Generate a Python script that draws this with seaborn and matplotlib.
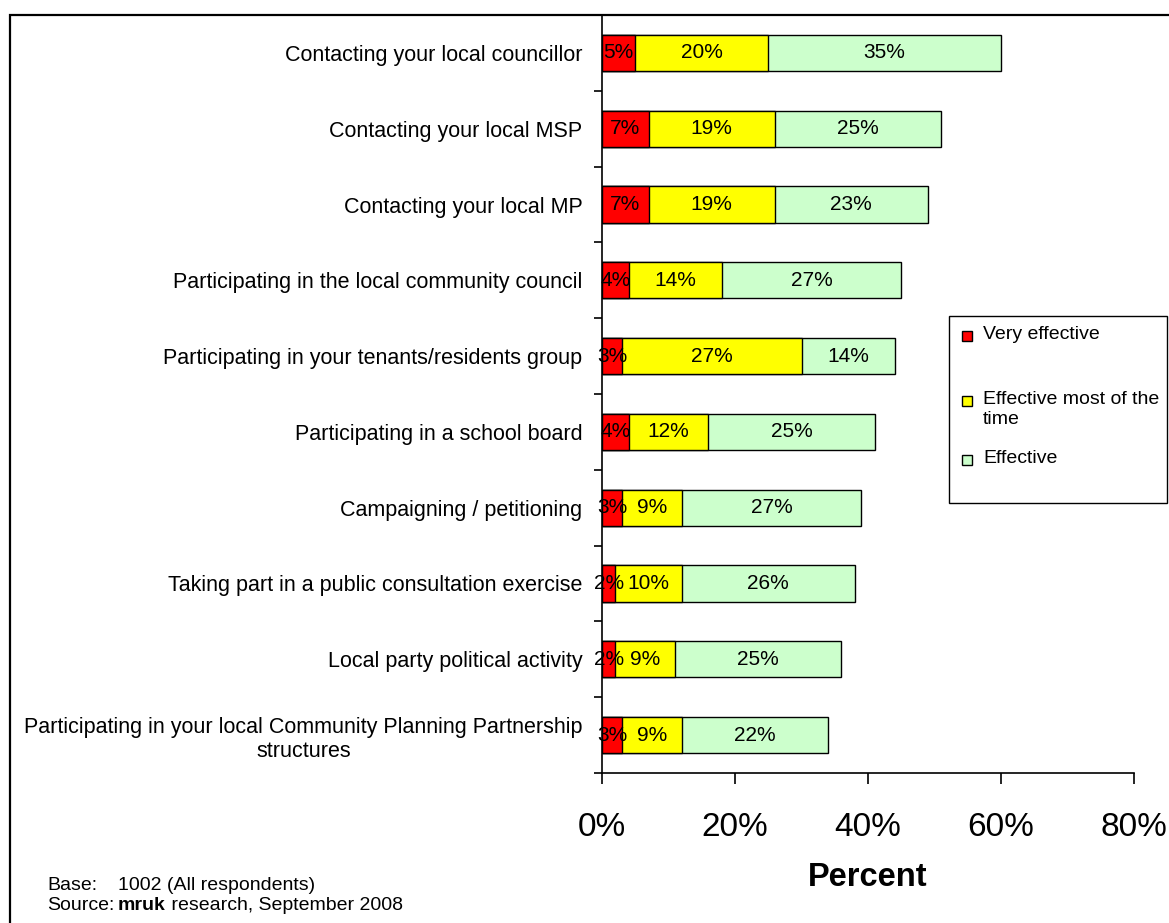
import matplotlib
matplotlib.use("Agg")
import matplotlib.pyplot as plt
from matplotlib.patches import Rectangle
from matplotlib.ticker import FixedLocator, PercentFormatter
import numpy as np
import pandas as pd
import seaborn as sns

categories = [
    "Contacting your local councillor",
    "Contacting your local MSP",
    "Contacting your local MP",
    "Participating in the local community council",
    "Participating in your tenants/residents group",
    "Participating in a school board",
    "Campaigning / petitioning",
    "Taking part in a public consultation exercise",
    "Local party political activity",
    "Participating in your local Community Planning Partnership\nstructures",
]
very_effective = [5, 7, 7, 4, 3, 4, 3, 2, 2, 3]
effective_most = [20, 19, 19, 14, 27, 12, 9, 10, 9, 9]
effective = [35, 25, 23, 27, 14, 25, 27, 26, 25, 22]
series_names = ["Very effective", "Effective most of the\ntime", "Effective"]
series_colors = ["#FF0000", "#FFFF00", "#CCFFCC"]
x_ticks = [0, 20, 40, 60, 80]

sns.set_theme(style="white")
plt.rcParams["font.family"] = ["Liberation Sans", "DejaVu Sans"]
plt.rcParams["text.color"] = "black"
plt.rcParams["axes.labelcolor"] = "black"
plt.rcParams["xtick.color"] = "black"
plt.rcParams["ytick.color"] = "black"

df = pd.DataFrame({
    "category": categories,
    "very": very_effective,
    "most": effective_most,
    "eff": effective,
})
df["c1"] = df["very"]
df["c2"] = df["very"] + df["most"]
df["c3"] = df["c2"] + df["eff"]

W, H = 1169, 923
fig = plt.figure(figsize=(W / 100, H / 100), dpi=100)
ax = fig.add_axes([602 / W, 1 - 773 / H, (1134 - 602) / W, (773 - 15) / H])

# stacked horizontal bars: cumulative totals drawn from the outside in
for col, color in zip(["c3", "c2", "c1"], series_colors[::-1]):
    sns.barplot(data=df, x=col, y="category", orient="h", color=color,
                edgecolor="black", linewidth=1.0, width=0.48, ax=ax,
                saturation=1, errorbar=None)

# value labels centred in each segment
for i, row in df.iterrows():
    for left, val in [(0, row["very"]), (row["c1"], row["most"]), (row["c2"], row["eff"])]:
        ax.text(left + val / 2, i, f"{val}%", ha="center", va="center",
                fontsize=15, color="black")

ax.set_xlim(0, 80)
ax.set_ylim(len(categories) - 0.5, -0.5)
ax.xaxis.set_major_locator(FixedLocator(x_ticks))
ax.xaxis.set_major_formatter(PercentFormatter(decimals=0))
ax.tick_params(axis="x", direction="out", length=8, width=1.2, pad=20,
               labelsize=24, bottom=True)
ax.set_xlabel("Percent", fontsize=23.5, fontweight="bold", labelpad=14)
ax.set_ylabel("")

ax.yaxis.set_minor_locator(FixedLocator(np.arange(-0.5, len(categories), 1.0)))
ax.tick_params(axis="y", which="major", length=0, pad=14, labelsize=15.5)
ax.tick_params(axis="y", which="minor", direction="out", length=6, width=1.2,
               left=True)
for lab in ax.get_yticklabels():
    lab.set_multialignment("center")

for side in ["top", "right"]:
    ax.spines[side].set_visible(False)
for side in ["left", "bottom"]:
    ax.spines[side].set_color("black")
    ax.spines[side].set_linewidth(1.2)


def px(x, y):
    """Figure pixel position (from top-left) to figure fraction."""
    return x / W, 1 - y / H


# legend box with colour keys
lx, ly = px(949, 503)
fig.patches.append(Rectangle((lx, ly), (1167 - 949) / W, (503 - 316) / H,
                             transform=fig.transFigure, facecolor="white",
                             edgecolor="black", linewidth=1.0, zorder=3))
key_rows = [336, 401, 460]
for name, color, yrow in zip(series_names, series_colors, key_rows):
    kx, ky = px(962, yrow + 5)
    fig.patches.append(Rectangle((kx, ky), 10 / W, 10 / H,
                                 transform=fig.transFigure, facecolor=color,
                                 edgecolor="black", linewidth=1.0, zorder=4))
    tx, ty = px(983, yrow - 10)
    fig.text(tx, ty, name, fontsize=14, va="top", ha="left",
             linespacing=1.25, zorder=5)

# outer frame
fig.patches.append(Rectangle((10 / W, -0.1), 1.2, 1 - 15 / H + 0.1,
                             transform=fig.transFigure, fill=False,
                             edgecolor="black", linewidth=1.6))

# notes
fs = 14
col2 = 118
fig.text(*px(47, 886), "Base:", fontsize=fs, va="center")
fig.text(*px(col2, 886), "1002 (All respondents)", fontsize=fs, va="center")
fig.text(*px(47, 905), "Source:", fontsize=fs, va="center")
t_bold = fig.text(*px(col2, 905), "mruk", fontsize=fs, va="center",
                  fontweight="bold")
fig.canvas.draw()
bb = t_bold.get_window_extent()
fig.text(bb.x1 / W, 1 - 905 / H, " research, September 2008", fontsize=fs,
         va="center")

fig.savefig("out.png", dpi=100)
